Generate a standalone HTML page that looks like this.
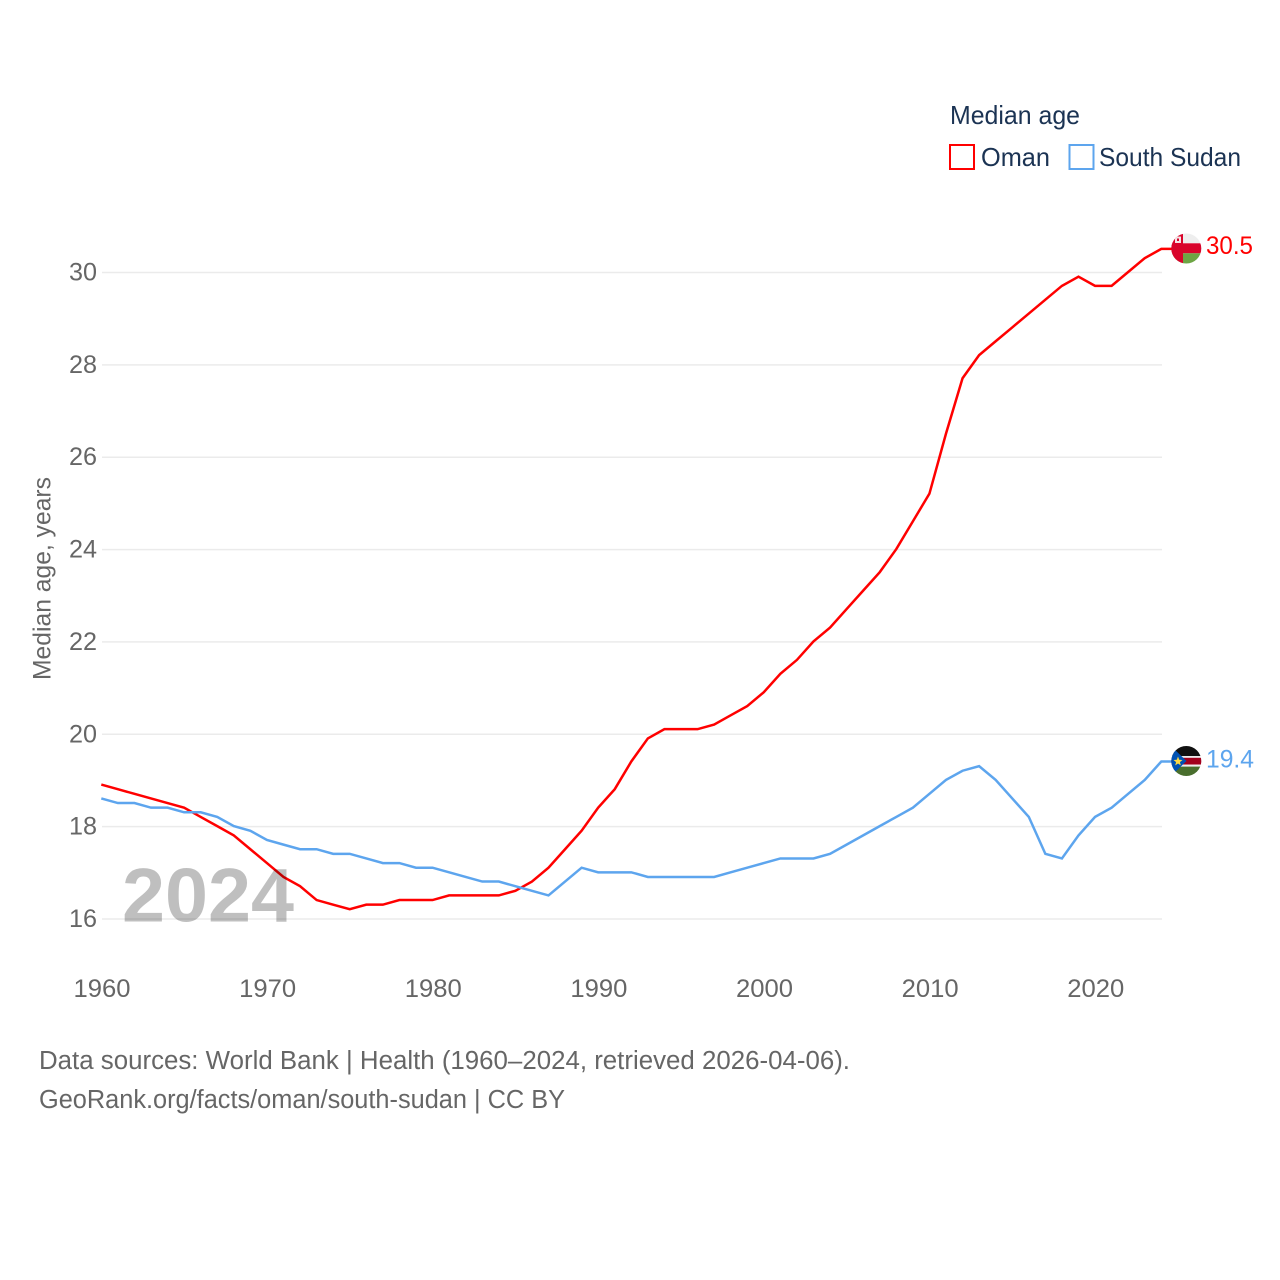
<!DOCTYPE html>
<html lang="en">
<head>
<meta charset="utf-8">
<title>Median age: Oman and South Sudan</title>
<style>
html,body{margin:0;padding:0;background:#fff;}
svg{display:block;}
text{font-family:"Liberation Sans",sans-serif;}
</style>
</head>
<body>
<svg id="chart" xmlns="http://www.w3.org/2000/svg" width="1280" height="1280" viewBox="0 0 1280 1280">
  <defs>
    <clipPath id="flag-clip-oman"><circle cx="1186.300" cy="248.500" r="15"/></clipPath>
    <clipPath id="flag-clip-ssd"><circle cx="1186.300" cy="761" r="15"/></clipPath>
  </defs>
  <rect width="1280" height="1280" fill="#fff"/>
  <g id="grid"></g>
  <g id="yticks"></g>
  <g id="xticks"></g>
  <g id="series"></g>

  <text transform="translate(50.500,680) rotate(-90)" font-size="25" fill="#666" textLength="203" lengthAdjust="spacingAndGlyphs">Median age, years</text>

  <text x="122" y="921.500" font-size="76" font-weight="bold" fill="#000" fill-opacity="0.25" textLength="172" lengthAdjust="spacingAndGlyphs">2024</text>

  <g>
    <text x="950" y="124" font-size="26" fill="#1b3353" textLength="130" lengthAdjust="spacingAndGlyphs">Median age</text>
    <g>
      <rect x="950" y="145" width="24" height="24" fill="#fff" stroke="#ff0000" stroke-width="2"/>
      <text x="981" y="166" font-size="26" fill="#1b3353" textLength="69" lengthAdjust="spacingAndGlyphs">Oman</text>
    </g>
    <g>
      <rect x="1069.500" y="145" width="24" height="24" fill="#fff" stroke="#5da5ee" stroke-width="2"/>
      <text x="1099" y="166" font-size="26" fill="#1b3353" textLength="142" lengthAdjust="spacingAndGlyphs">South Sudan</text>
    </g>
  </g>

  <g clip-path="url(#flag-clip-oman)">
    <rect x="1171" y="233" width="31" height="10.300" fill="#eeeeee"/>
    <rect x="1171" y="243.300" width="31" height="10" fill="#d9042b"/>
    <rect x="1171" y="253.300" width="31" height="11" fill="#6da544"/>
    <rect x="1171" y="233" width="12" height="31" fill="#d9042b"/>
    <rect x="1175" y="236.500" width="6" height="6.500" fill="#f4e4e6"/>
    <rect x="1177" y="238.500" width="2" height="2.500" fill="#d9042b"/>
  </g>

  <g clip-path="url(#flag-clip-ssd)">
    <rect x="1171" y="746" width="31" height="10" fill="#111111"/>
    <rect x="1171" y="756" width="31" height="1.800" fill="#eeeeee"/>
    <rect x="1171" y="757.800" width="31" height="6.800" fill="#a2001d"/>
    <rect x="1171" y="764.600" width="31" height="2" fill="#eeeeee"/>
    <rect x="1171" y="766.600" width="31" height="10" fill="#496e2d"/>
    <polygon points="1171,746 1186.500,761 1171,776" fill="#0052b4"/>
    <polygon points="1178,756.500 1179.200,759.800 1182.500,760 1179.900,762.100 1180.800,765.400 1178,763.500 1175.200,765.400 1176.100,762.100 1173.500,760 1176.800,759.800" fill="#ffda44"/>
  </g>

  <text x="1206" y="254" font-size="25" fill="#ff0000" textLength="47" lengthAdjust="spacingAndGlyphs">30.5</text>
  <text x="1206" y="767.500" font-size="25" fill="#5da5ee" textLength="48" lengthAdjust="spacingAndGlyphs">19.4</text>

  <text x="39" y="1069" font-size="25.500" fill="#666" textLength="811" lengthAdjust="spacingAndGlyphs">Data sources: World Bank | Health (1960–2024, retrieved 2026-04-06).</text>
  <text x="39" y="1108" font-size="25.500" fill="#666" textLength="526" lengthAdjust="spacingAndGlyphs">GeoRank.org/facts/oman/south-sudan | CC BY</text>
</svg>
<script>
const years = [1960,1961,1962,1963,1964,1965,1966,1967,1968,1969,1970,1971,1972,1973,1974,1975,1976,1977,1978,1979,1980,1981,1982,1983,1984,1985,1986,1987,1988,1989,1990,1991,1992,1993,1994,1995,1996,1997,1998,1999,2000,2001,2002,2003,2004,2005,2006,2007,2008,2009,2010,2011,2012,2013,2014,2015,2016,2017,2018,2019,2020,2021,2022,2023,2024];
const omanValues = [18.9,18.8,18.7,18.6,18.5,18.4,18.2,18.0,17.8,17.5,17.2,16.9,16.7,16.4,16.3,16.2,16.3,16.3,16.4,16.4,16.4,16.5,16.5,16.5,16.5,16.6,16.8,17.1,17.5,17.9,18.4,18.8,19.4,19.9,20.1,20.1,20.1,20.2,20.4,20.6,20.9,21.3,21.6,22.0,22.3,22.7,23.1,23.5,24.0,24.6,25.2,26.5,27.7,28.2,28.5,28.8,29.1,29.4,29.7,29.9,29.7,29.7,30.0,30.3,30.5];
const southSudanValues = [18.6,18.5,18.5,18.4,18.4,18.3,18.3,18.2,18.0,17.9,17.7,17.6,17.5,17.5,17.4,17.4,17.3,17.2,17.2,17.1,17.1,17.0,16.9,16.8,16.8,16.7,16.6,16.5,16.8,17.1,17.0,17.0,17.0,16.9,16.9,16.9,16.9,16.9,17.0,17.1,17.2,17.3,17.3,17.3,17.4,17.6,17.8,18.0,18.2,18.4,18.7,19.0,19.2,19.3,19.0,18.6,18.2,17.4,17.3,17.8,18.2,18.4,18.7,19.0,19.4];
const yTickValues = [16,18,20,22,24,26,28,30];
const xTickValues = [1960,1970,1980,1990,2000,2010,2020];

const NS = 'http://www.w3.org/2000/svg';
function xScale(year){ return 101.3 + (year - 1960) * (1161.3 - 101.3) / (2024 - 1960); }
function yScale(value){ return 918.5 - (value - 16) * (918.5 - 272) / (30 - 16); }

const gridGroup = document.getElementById('grid');
const yTickGroup = document.getElementById('yticks');
const xTickGroup = document.getElementById('xticks');
const seriesGroup = document.getElementById('series');

yTickValues.forEach(function(v){
  const line = document.createElementNS(NS,'line');
  
  
  line.setAttribute('x1', 102);
  line.setAttribute('x2', 1162);
  line.setAttribute('y1', yScale(v) + 0.5);
  line.setAttribute('y2', yScale(v) + 0.5);
  line.setAttribute('stroke', '#ebebeb');
  line.setAttribute('stroke-width', 1.5);
  gridGroup.appendChild(line);

  const t = document.createElementNS(NS,'text');
  
  
  t.setAttribute('x', 69);
  t.setAttribute('y', yScale(v) + 8.5);
  t.setAttribute('font-size', 25);
  t.setAttribute('fill', '#666');
  t.setAttribute('textLength', 28);
  t.setAttribute('lengthAdjust', 'spacingAndGlyphs');
  t.textContent = String(v);
  yTickGroup.appendChild(t);
});

xTickValues.forEach(function(y){
  const t = document.createElementNS(NS,'text');
  
  
  t.setAttribute('x', xScale(y) + 0.7);
  t.setAttribute('y', 997);
  t.setAttribute('font-size', 25);
  t.setAttribute('fill', '#666');
  t.setAttribute('text-anchor', 'middle');
  t.setAttribute('textLength', 57);
  t.setAttribute('lengthAdjust', 'spacingAndGlyphs');
  t.textContent = String(y);
  xTickGroup.appendChild(t);
});

function linePoints(values){
  const pts = values.map(function(v,i){ return xScale(years[i]).toFixed(2) + ',' + yScale(v).toFixed(2); });
  pts.push('1172,' + yScale(values[values.length - 1]).toFixed(2));
  return pts.join(' ');
}

const omanLine = document.createElementNS(NS,'polyline');


omanLine.setAttribute('points', linePoints(omanValues));
omanLine.setAttribute('fill', 'none');
omanLine.setAttribute('stroke', '#ff0000');
omanLine.setAttribute('stroke-width', 2.5);
seriesGroup.appendChild(omanLine);

const southSudanLine = document.createElementNS(NS,'polyline');


southSudanLine.setAttribute('points', linePoints(southSudanValues));
southSudanLine.setAttribute('fill', 'none');
southSudanLine.setAttribute('stroke', '#5da5ee');
southSudanLine.setAttribute('stroke-width', 2.5);
seriesGroup.appendChild(southSudanLine);
</script>
</body>
</html>
